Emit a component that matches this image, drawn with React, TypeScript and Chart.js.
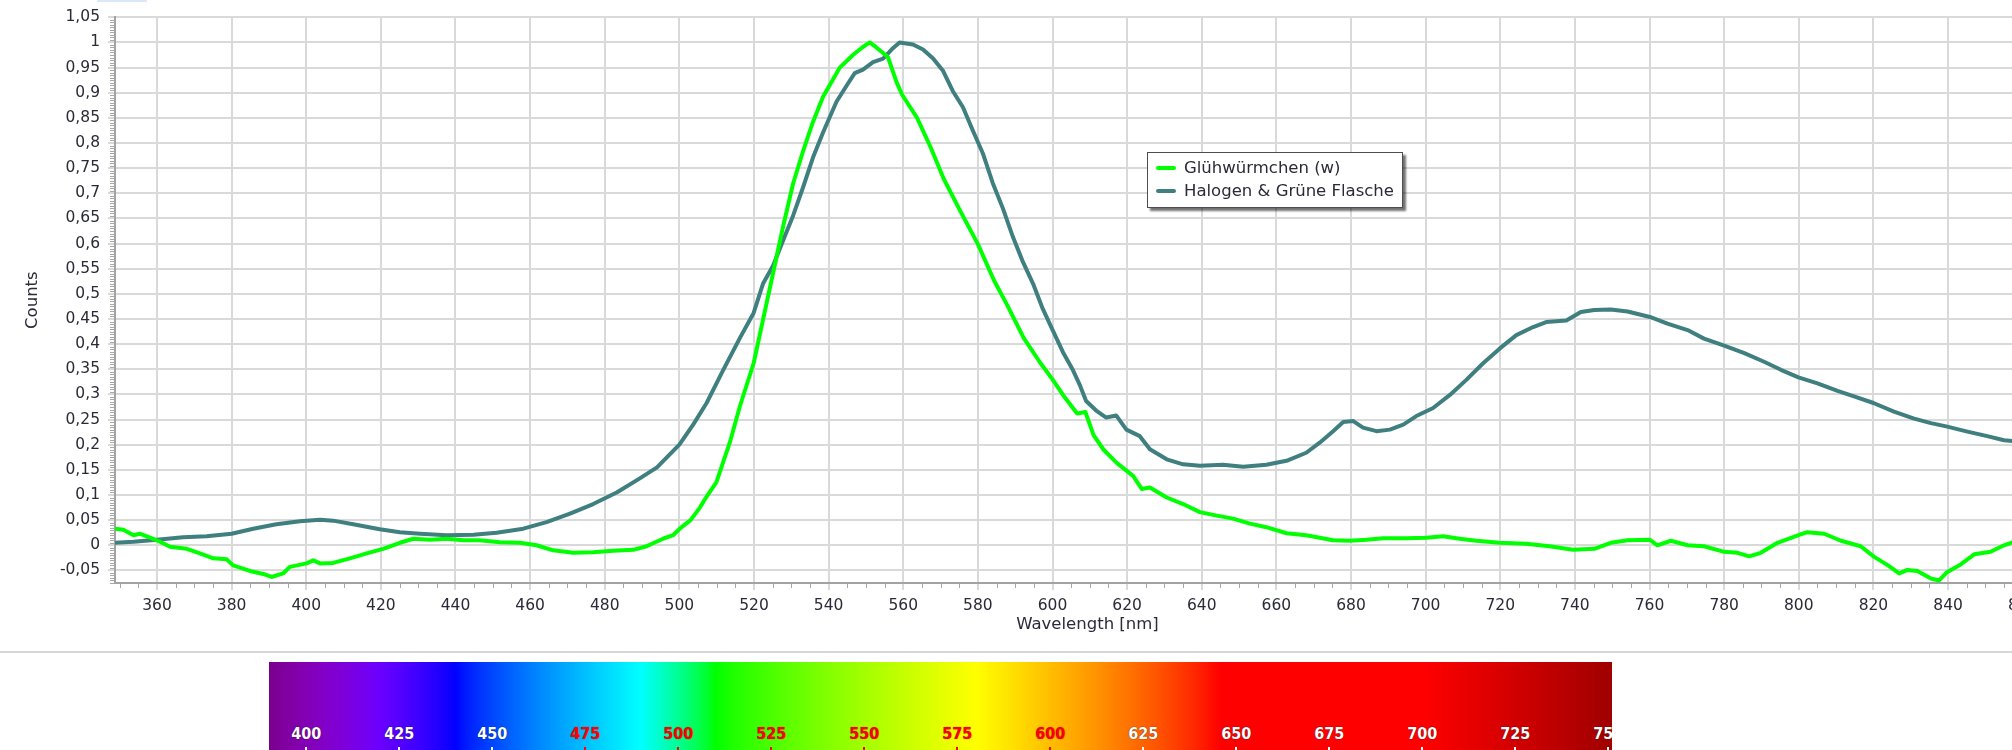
import React, { useEffect, useRef } from 'react';
import { Chart, registerables } from 'chart.js';

Chart.register(...registerables);

// Glühwürmchen (w) - wavelength [nm] / counts
const glowNm = [
  348.8, 351, 353.7, 355.4, 360, 363.5, 368, 371.5, 375.1, 378.7, 380.4, 384.9, 388.5, 390.7,
  393.8, 395.6, 400.1, 401.9, 403.7, 407.2, 411.7, 416.2, 420.6, 425.1, 428.7, 433.2, 437.6,
  442.1, 446.5, 451.9, 457.3, 461.7, 466.2, 471.5, 476.9, 482.3, 487.6, 491.2, 495.6, 498.3,
  500.1, 503, 505.5, 507.3, 509.9, 513.5, 516.2, 519.9, 522.4, 525.1, 527.8, 530.5, 533.2,
  535.8, 538.5, 543, 546.5, 549, 551, 552.8, 555.9, 558.2, 559.7, 563.7, 567.3, 570.9, 575.4,
  580, 584.3, 587.9, 592.3, 596.8, 600, 603, 606.6, 608.8, 611, 613.7, 617.2, 621.6, 623.9,
  626.1, 630.6, 635, 639.5, 644, 648.4, 652.9, 657.3, 662.7, 668, 675.2, 679.7, 684.1, 688.6,
  694.8, 700.2, 704.7, 709.1, 713.6, 719.8, 726.9, 733.2, 739.5, 745.2, 749.6, 754.1, 760.1,
  762.1, 765.7, 770.2, 774.6, 780, 783.6, 786.7, 789.8, 794.3, 799.9, 802.3, 806.8, 811.3,
  816.6, 820.2, 823.7, 826.9, 829.1, 831.8, 835.4, 837.6, 839.8, 843.4, 847, 851.4, 855, 858,
];
const glowCounts = [
  0.033, 0.031, 0.02, 0.023, 0.01, -0.003, -0.007, -0.016, -0.026, -0.028, -0.04, -0.051, -0.057, -0.063,
  -0.056, -0.043, -0.036, -0.03, -0.036, -0.035, -0.026, -0.016, -0.007, 0.005, 0.013, 0.011, 0.013,
  0.01, 0.01, 0.006, 0.005, 0, -0.01, -0.015, -0.014, -0.011, -0.009, -0.002, 0.013, 0.02,
  0.033, 0.05, 0.075, 0.097, 0.125, 0.204, 0.276, 0.362, 0.448, 0.541, 0.634, 0.72, 0.785,
  0.842, 0.892, 0.95, 0.975, 0.99, 1.0, 0.99, 0.971, 0.921, 0.896, 0.85, 0.792, 0.728, 0.663,
  0.599, 0.527, 0.477, 0.412, 0.362, 0.33, 0.297, 0.262, 0.265, 0.219, 0.19, 0.164, 0.138, 0.112,
  0.115, 0.095, 0.082, 0.066, 0.059, 0.053, 0.043, 0.036, 0.024, 0.02, 0.01, 0.009, 0.011, 0.014,
  0.014, 0.015, 0.018, 0.013, 0.009, 0.005, 0.003, -0.002, -0.009, -0.007, 0.005, 0.01, 0.011,
  0, 0.009, 0, -0.002, -0.013, -0.015, -0.022, -0.015, 0.005, 0.02, 0.026, 0.023, 0.009,
  -0.002, -0.023, -0.039, -0.056, -0.049, -0.051, -0.066, -0.07, -0.053, -0.038, -0.018, -0.013, 0, 0.008,
];

// Halogen & Grüne Flasche - wavelength [nm] / counts
const halogenNm = [
  348.8, 353.7, 360, 367, 373.3, 380, 385.8, 392, 398.3, 403.7, 407.2, 412.6, 419.7, 425.1,
  430.5, 437.6, 444.8, 451, 458.2, 464.4, 470.7, 476.9, 483.2, 489.4, 494, 500, 503.7, 507.3,
  511.7, 516.2, 519.9, 522.4, 525.1, 527.8, 530.5, 533.2, 535.8, 538.5, 542.1, 544.8, 547,
  549.2, 551.9, 554.6, 557.3, 559, 562.6, 565.3, 568, 570.7, 573.3, 576, 578.7, 581.4, 584,
  586.7, 589.4, 592.1, 594.8, 597.4, 600.1, 602.8, 605.5, 607.3, 609, 611.7, 614.4, 617.1,
  619.8, 623.4, 626.1, 630.6, 635, 639.5, 645.7, 651.1, 657.3, 662.7, 668, 671.6, 675.2, 677.9,
  680.6, 683.2, 686.8, 690.4, 694, 697.5, 702, 706.5, 710.9, 715.4, 719.8, 724.3, 728.8, 732.3,
  737.7, 741.6, 745.2, 749.6, 754.1, 760.1, 764.8, 770.2, 774.6, 780, 785.4, 790.7, 795.2,
  799.9, 805, 810.4, 814.8, 820, 825.5, 830.9, 835.4, 839.8, 845.2, 850.5, 855, 858,
];
const halogenCounts = [
  0.005, 0.007, 0.011, 0.016, 0.018, 0.023, 0.033, 0.042, 0.048, 0.051, 0.049, 0.042, 0.032, 0.026,
  0.023, 0.02, 0.021, 0.025, 0.033, 0.046, 0.063, 0.082, 0.105, 0.133, 0.155, 0.2, 0.24, 0.283,
  0.348, 0.412, 0.462, 0.52, 0.556, 0.606, 0.656, 0.713, 0.771, 0.821, 0.882, 0.914, 0.939,
  0.946, 0.961, 0.968, 0.989, 1.0, 0.996, 0.986, 0.968, 0.943, 0.903, 0.871, 0.824, 0.778, 0.72,
  0.67, 0.613, 0.563, 0.52, 0.47, 0.427, 0.384, 0.348, 0.319, 0.287, 0.268, 0.254, 0.258,
  0.23, 0.217, 0.191, 0.171, 0.161, 0.158, 0.16, 0.156, 0.16, 0.168, 0.184, 0.204, 0.227, 0.245,
  0.247, 0.234, 0.227, 0.23, 0.24, 0.257, 0.273, 0.299, 0.329, 0.362, 0.391, 0.418, 0.434, 0.444,
  0.447, 0.464, 0.468, 0.469, 0.465, 0.454, 0.441, 0.428, 0.411, 0.397, 0.382, 0.365, 0.349,
  0.334, 0.322, 0.307, 0.296, 0.283, 0.266, 0.252, 0.243, 0.236, 0.226, 0.217, 0.209, 0.207,
];

const seriesLabels = ['Glühwürmchen (w)', 'Halogen & Grüne Flasche'];
const seriesColors = ['#00ff00', '#3f7f7f'];

// colour bar below the chart
const spectrumStart = 390;
const spectrumEnd = 751;
const spectrumTicks = [400, 425, 450, 475, 500, 525, 550, 575, 600, 625, 650, 675, 700, 725, 750];
const spectrumRedTicks = [475, 500, 525, 550, 575, 600];

const FONT = '"DejaVu Sans", Verdana, sans-serif';
const TEXT = '#2a2a38';

// classic wavelength -> RGB approximation
function wavelengthColor(nm: number) {
  let r = 0, g = 0, b = 0;
  if (nm < 440) { r = (440 - nm) / 60; b = 1; }
  else if (nm < 490) { g = (nm - 440) / 50; b = 1; }
  else if (nm < 510) { g = 1; b = (510 - nm) / 20; }
  else if (nm < 580) { r = (nm - 510) / 70; g = 1; }
  else if (nm < 645) { r = 1; g = (645 - nm) / 65; }
  else { r = 1; }
  let f = 1;
  if (nm < 420) f = 0.3 + (0.7 * (nm - 380)) / 40;
  else if (nm > 700) f = 0.3 + (0.7 * (780 - nm)) / 80;
  const c = (v: number) => Math.round(255 * Math.pow(v * f, 0.8));
  return `rgb(${c(r)},${c(g)},${c(b)})`;
}

function spectrumGradient() {
  const stops: string[] = [];
  for (let nm = spectrumStart; nm <= spectrumEnd; nm += 2) {
    const pct = ((nm - spectrumStart) / (spectrumEnd - spectrumStart)) * 100;
    stops.push(`${wavelengthColor(nm)} ${pct.toFixed(2)}%`);
  }
  return `linear-gradient(to right, ${stops.join(', ')})`;
}

const fmtComma = (v: number) => String(Math.round(v * 100) / 100).replace('.', ',');

// small minor tick marks along both axes
const minorTicks = {
  id: 'minorTicks',
  afterDraw(chart: any) {
    const { ctx, chartArea, scales } = chart;
    const xs = scales.x;
    const ys = scales.y;
    ctx.save();
    ctx.strokeStyle = '#a8a8a8';
    ctx.lineWidth = 1;
    ctx.beginPath();
    for (let v = Math.ceil(xs.min / 5) * 5; v <= xs.max; v += 5) {
      if (v % 20 === 0) continue;
      const px = Math.round(xs.getPixelForValue(v)) + 0.5;
      ctx.moveTo(px, chartArea.bottom + 1);
      ctx.lineTo(px, chartArea.bottom + 5);
    }
    for (let i = Math.ceil(ys.min / 0.005); i * 0.005 <= ys.max + 1e-9; i++) {
      if (i % 10 === 0) continue;
      const py = Math.round(ys.getPixelForValue(i * 0.005)) + 0.5;
      ctx.moveTo(chartArea.left - 5, py);
      ctx.lineTo(chartArea.left - 1, py);
    }
    ctx.stroke();
    ctx.restore();
  },
};

const SpectrumChart: React.FC = () => {
  const ref = useRef<HTMLCanvasElement>(null);

  useEffect(() => {
    if (!ref.current) return;

    const chart = new Chart(ref.current, {
      type: 'line',
      data: {
        datasets: [
          {
            label: seriesLabels[0],
            data: glowNm.map((x, i) => ({ x, y: glowCounts[i] })),
            borderColor: seriesColors[0],
            backgroundColor: seriesColors[0],
            borderWidth: 4,
            pointRadius: 0,
            borderJoinStyle: 'round',
            borderCapStyle: 'round',
          },
          {
            label: seriesLabels[1],
            data: halogenNm.map((x, i) => ({ x, y: halogenCounts[i] })),
            borderColor: seriesColors[1],
            backgroundColor: seriesColors[1],
            borderWidth: 4,
            pointRadius: 0,
            borderJoinStyle: 'round',
            borderCapStyle: 'round',
          },
        ],
      },
      options: {
        animation: false,
        responsive: false,
        events: [],
        layout: { padding: { top: 14, right: 40, left: 0, bottom: 0 } },
        plugins: { legend: { display: false }, tooltip: { enabled: false } },
        scales: {
          x: {
            type: 'linear',
            min: 348.75,
            max: 870,
            afterFit: (s: any) => { s.height = 67; },
            ticks: {
              stepSize: 20,
              includeBounds: false,
              autoSkip: false,
              maxRotation: 0,
              padding: 7,
              color: TEXT,
              font: { family: FONT, size: 15.5 },
            },
            grid: { color: '#d9d9d9', lineWidth: 2, tickLength: 7 },
            border: { color: '#a3a3a3', width: 2 },
            title: {
              display: true,
              text: 'Wavelength [nm]',
              color: TEXT,
              font: { family: FONT, size: 16.5 },
              padding: { top: 0, bottom: 15 },
            },
          },
          y: {
            type: 'linear',
            min: -0.075,
            max: 1.05,
            afterFit: (s: any) => { s.width = 115; },
            ticks: {
              stepSize: 0.05,
              includeBounds: false,
              autoSkip: false,
              padding: 8,
              color: TEXT,
              font: { family: FONT, size: 15.5 },
              callback: (v: any) => fmtComma(Number(v)),
            },
            grid: { color: '#d9d9d9', lineWidth: 2, tickLength: 7 },
            border: { color: '#a3a3a3', width: 2 },
            title: {
              display: true,
              text: 'Counts',
              color: TEXT,
              font: { family: FONT, size: 16.5 },
              padding: { top: 23, bottom: 0 },
            },
          },
        },
      },
      plugins: [minorTicks],
    });

    return () => {
      chart.destroy();
    };
  }, []);

  return <canvas ref={ref} width={2100} height={650} style={{ width: 2100, height: 650, display: 'block' }} />;
};

const App: React.FC = () => {
  const span = spectrumEnd - spectrumStart;
  return (
    <div
      style={{
        position: 'absolute',
        left: 0,
        top: 0,
        width: 2012,
        height: 750,
        overflow: 'hidden',
        background: '#fff',
        fontFamily: FONT,
      }}
    >
      <div style={{ position: 'absolute', left: 97, top: 0, width: 50, height: 2, background: '#dbe8f7' }} />
      <div style={{ position: 'absolute', left: 0, top: 0 }}>
        <SpectrumChart />
      </div>

      {/* legend */}
      <div
        style={{
          position: 'absolute',
          left: 1147,
          top: 152,
          width: 254,
          height: 54,
          background: '#fff',
          border: '1px solid #4d4d4d',
          boxShadow: '3px 3px 2px rgba(0,0,0,0.55)',
        }}
      >
        {seriesLabels.map((label, i) => (
          <div
            key={label}
            style={{ position: 'absolute', left: 0, top: 3 + i * 23, height: 23, display: 'flex', alignItems: 'center' }}
          >
            <div style={{ marginLeft: 8, width: 20, height: 4, borderRadius: 2, background: seriesColors[i] }} />
            <span style={{ marginLeft: 8, fontSize: 16.5, color: TEXT, whiteSpace: 'nowrap' }}>{label}</span>
          </div>
        ))}
      </div>

      {/* separator */}
      <div style={{ position: 'absolute', left: 0, top: 651, width: 2012, height: 2, background: '#d6d6d6' }} />

      {/* colour bar */}
      <div
        style={{
          position: 'absolute',
          left: 269,
          top: 662,
          width: 1343,
          height: 100,
          overflow: 'hidden',
          background: spectrumGradient(),
        }}
      >
        {spectrumTicks.map((nm) => {
          const left = ((nm - spectrumStart) / span) * 100;
          const red = spectrumRedTicks.includes(nm);
          const color = red ? '#ff0000' : '#ffffff';
          return (
            <React.Fragment key={nm}>
              <div
                style={{
                  position: 'absolute',
                  left: `${left}%`,
                  top: 62,
                  transform: 'translateX(-50%)',
                  fontFamily: '"DejaVu Sans Condensed", "DejaVu Sans", sans-serif',
                  fontStretch: 'condensed',
                  fontWeight: 'bold',
                  fontSize: 16,
                  lineHeight: '20px',
                  color,
                  textShadow: red ? '0 0 1px rgba(120,0,0,0.8)' : '0 0 1px rgba(0,0,0,0.9)',
                }}
              >
                {nm}
              </div>
              <div
                style={{
                  position: 'absolute',
                  left: `${left}%`,
                  top: 85,
                  width: 2,
                  height: 3,
                  marginLeft: -1,
                  background: color,
                }}
              />
            </React.Fragment>
          );
        })}
      </div>
    </div>
  );
};

export default App;
